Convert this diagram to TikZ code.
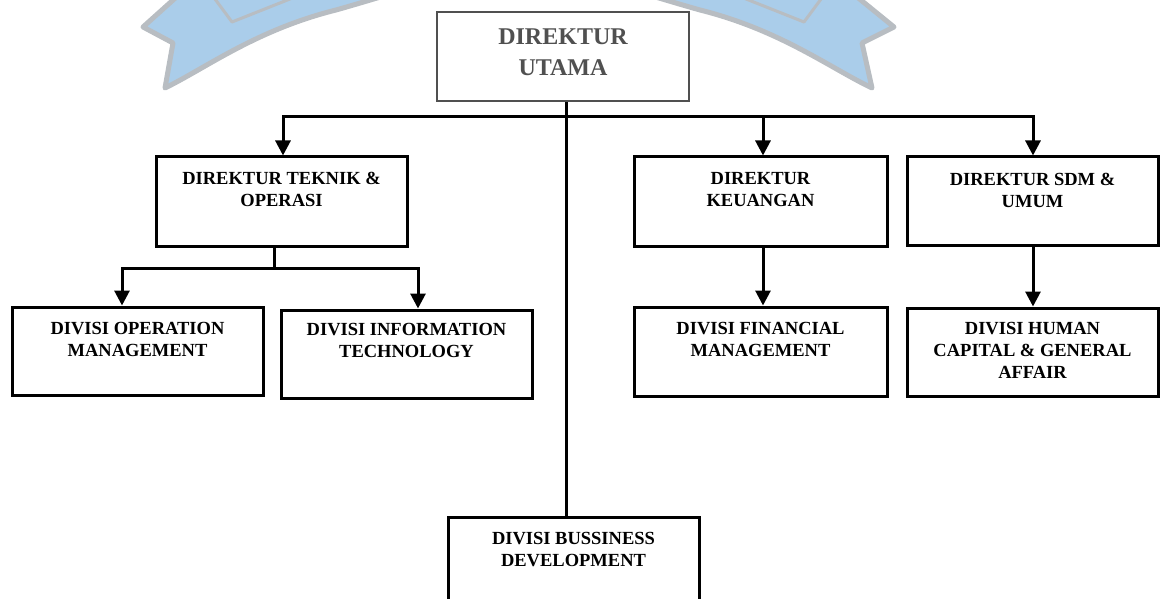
\documentclass[tikz,border=0pt]{standalone}
\usepackage{fontspec}
\setmainfont{Liberation Serif}
\usetikzlibrary{arrows.meta}
\definecolor{ribbonfill}{RGB}{170,205,234}
\definecolor{ribbonedge}{RGB}{184,189,194}
\definecolor{headgray}{RGB}{80,80,80}
\begin{document}
\begin{tikzpicture}[x=1pt,y=-1pt,
  box/.style={draw=black, line width=3pt, fill=white, inner sep=0pt,
              minimum width=251pt, minimum height=88pt},
  headbox/.style={draw=headgray, line width=2.3pt, fill=white, inner sep=0pt,
              minimum width=252pt, minimum height=89pt},
  lbl/.style={anchor=north, inner sep=0pt, align=center,
              font=\fontsize{18.5}{22}\selectfont\bfseries},
  headlbl/.style={anchor=north, inner sep=0pt, align=center, text=headgray,
              font=\fontsize{24}{31}\selectfont\bfseries},
  plain/.style={line width=3pt, line join=miter},
  link/.style={plain, -{Triangle[length=15pt,width=15pt]}},
  fork/.style={plain, {Triangle[length=15pt,width=15pt]}-{Triangle[length=15pt,width=15pt]}}]

\useasboundingbox (0,0) rectangle (1162,599);
\clip (0,0) rectangle (1162,599);

% faint ribbon emblem in the background
\draw[ribbonedge, line width=5pt, fill=ribbonfill, line join=round]
  (143,27) -- (173,43) -- (165,88)
  .. controls (206,68) and (256,30) .. (336,10)
  .. controls (400,-8) and (460,-30) .. (518,-30)
  .. controls (576,-30) and (636,-8) .. (700,10)
  .. controls (780,30) and (830,68) .. (872,88)
  -- (862,43) -- (894,27) -- (851,-8) -- (851,-60) -- (182,-60) -- (182,-8) -- cycle;
\draw[ribbonedge, line width=3pt, line join=round]
  (212,-5) -- (232,22) -- (300,-5);
\draw[ribbonedge, line width=3pt, line join=round]
  (824,-5) -- (804,22) -- (736,-5);

% boxes
\node[headbox] (utama) at (563,56.5) {};
\node[box, minimum height=89pt] (tek) at (281.5,201.5) {};
\node[box, minimum width=253pt, minimum height=89pt] (keu) at (760.5,201.5) {};
\node[box] (sdm) at (1032.5,201) {};
\node[box] (om) at (137.5,351) {};
\node[box] (it) at (406.5,354) {};
\node[box, minimum width=253pt, minimum height=89pt] (fin) at (760.5,351.5) {};
\node[box] (hc) at (1032.5,352) {};
\node[box, minimum height=89pt] (bus) at (573.5,561.5) {};

% box texts
\node[headlbl] (utamaT) at ([yshift=-18pt]utama.north) {DIREKTUR\\UTAMA};
\node[lbl] (tekT) at ([yshift=-16.5pt]tek.north) {DIREKTUR TEKNIK \&\\OPERASI};
\node[lbl] (keuT) at ([yshift=-17pt]keu.north) {DIREKTUR\\KEUANGAN};
\node[lbl] (sdmT) at ([yshift=-17pt]sdm.north) {DIREKTUR SDM \&\\UMUM};
\node[lbl] (omT) at ([yshift=-16.5pt]om.north) {DIVISI OPERATION\\MANAGEMENT};
\node[lbl] (itT) at ([yshift=-15pt]it.north) {DIVISI INFORMATION\\TECHNOLOGY};
\node[lbl] (finT) at ([yshift=-16.5pt]fin.north) {DIVISI FINANCIAL\\MANAGEMENT};
\node[lbl] (hcT) at ([yshift=-16pt]hc.north) {DIVISI HUMAN\\CAPITAL \& GENERAL\\AFFAIR};
\node[lbl] (busT) at ([yshift=-16.5pt]bus.north) {DIVISI BUSSINESS\\DEVELOPMENT};

% junction points of the connector lines
\coordinate (trunk) at (566,117);
\coordinate (busL) at (283,117);
\coordinate (busK) at (763,117);
\coordinate (busR) at (1033,117);
\coordinate (tekJ) at (274,268);
\coordinate (omJ) at (122,268);
\coordinate (itJ) at (418,268);

% connectors
\draw[plain] (trunk |- utama.south) -- (trunk |- bus.north);
\draw[fork] (busL |- tek.north) -- (busL) -- (busR) -- (busR |- sdm.north);
\draw[link] (busK) -- (busK |- keu.north);
\draw[plain] (tekJ |- tek.south) -- (tekJ);
\draw[fork] (omJ |- om.north) -- (omJ) -- (itJ) -- (itJ |- it.north);
\draw[link] (busK |- keu.south) -- (busK |- fin.north);
\draw[link] (busR |- sdm.south) -- (busR |- hc.north);
\end{tikzpicture}
\end{document}
